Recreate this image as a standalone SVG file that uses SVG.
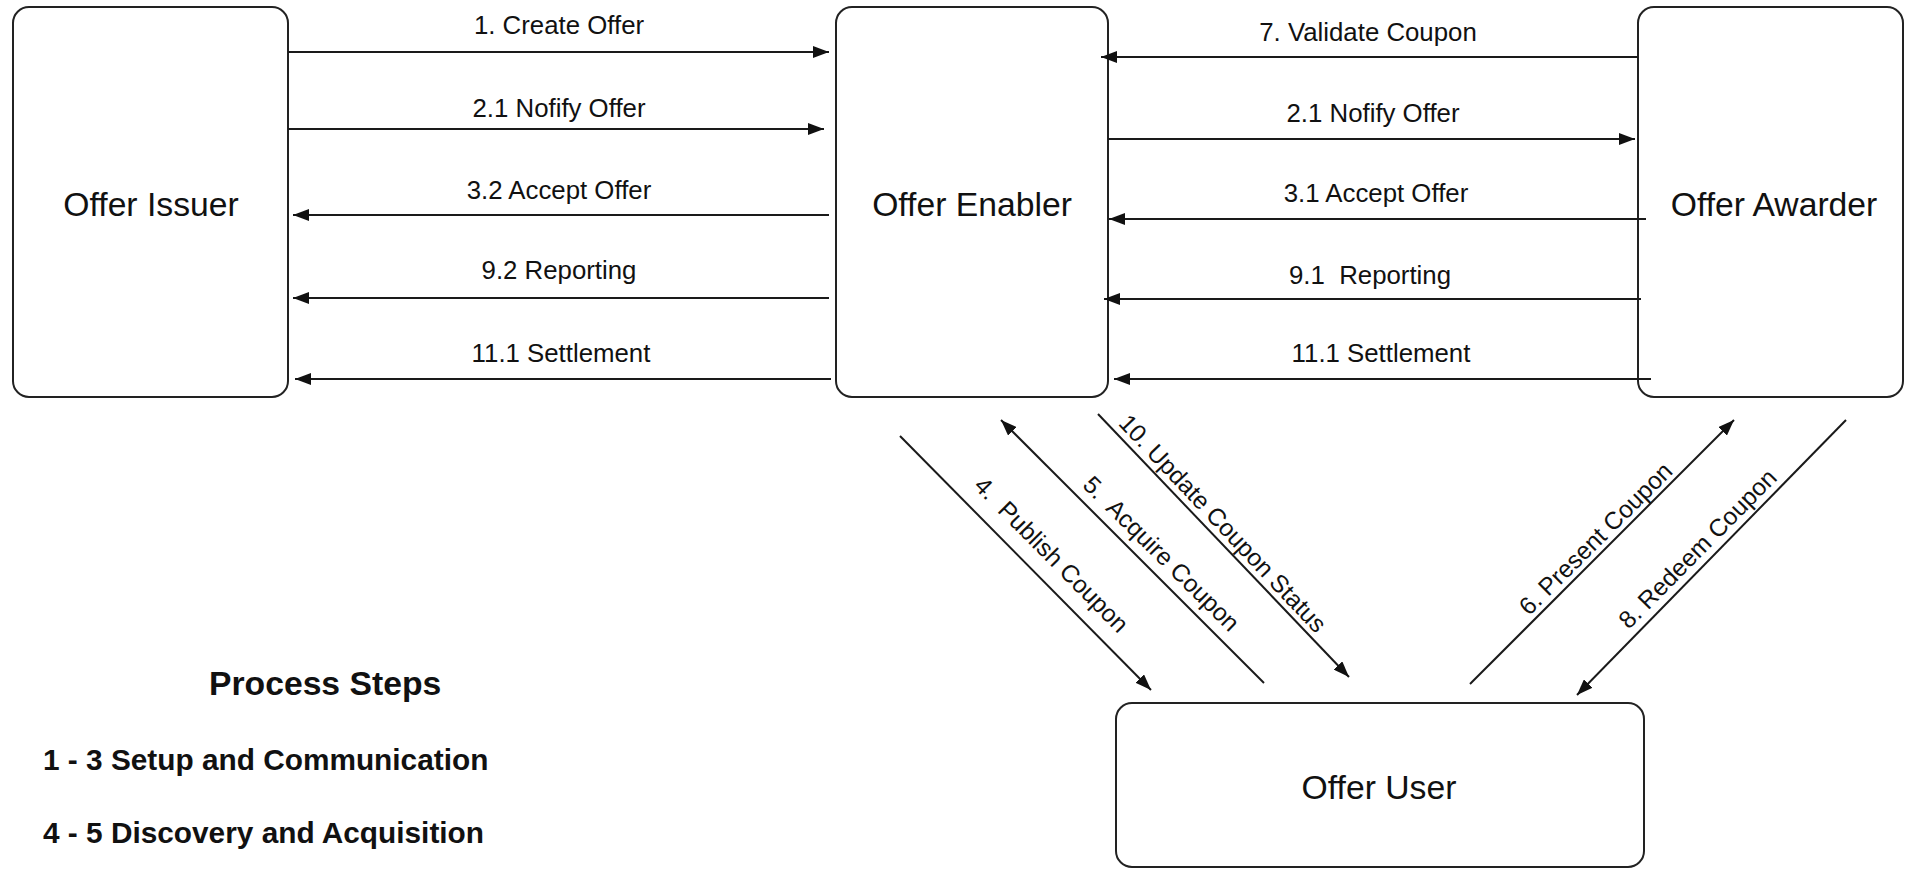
<svg xmlns="http://www.w3.org/2000/svg" width="1905" height="869" viewBox="0 0 1905 869">
  <style>
    .node { fill: #ffffff; stroke: #222222; stroke-width: 2; }
    .node-label { font-family: "Liberation Sans", Arial, sans-serif; font-size: 33.7px; fill: #111111; text-anchor: middle; }
    .edge { stroke: #1a1a1a; stroke-width: 2; fill: none; }
    .edge-label { font-family: "Liberation Sans", Arial, sans-serif; font-size: 25.8px; fill: #111111; text-anchor: middle; }
    .diag-label { font-family: "Liberation Sans", Arial, sans-serif; font-size: 24.5px; fill: #111111; text-anchor: middle; }
    .legend-title { font-family: "Liberation Sans", Arial, sans-serif; font-size: 33.7px; font-weight: bold; fill: #111111; }
    .legend-item { font-family: "Liberation Sans", Arial, sans-serif; font-size: 29.8px; font-weight: bold; fill: #111111; }
  </style>
  <defs>
    <marker id="arrow" viewBox="0 0 16 12" refX="16" refY="6" markerWidth="16" markerHeight="12" orient="auto" markerUnits="userSpaceOnUse">
      <path d="M0,0 L16,6 L0,12 z" fill="#111111"/>
    </marker>
  </defs>

  <rect width="1905" height="869" fill="#ffffff"/>

  <!-- Participants -->
  <g id="offer-issuer">
    <rect class="node" x="13" y="7" width="275" height="390" rx="16"/>
    <text class="node-label" x="151" y="216">Offer Issuer</text>
  </g>
  <g id="offer-enabler">
    <rect class="node" x="836" y="7" width="272" height="390" rx="16"/>
    <text class="node-label" x="972" y="216">Offer Enabler</text>
  </g>
  <g id="offer-awarder">
    <rect class="node" x="1638" y="7" width="265" height="390" rx="16"/>
    <text class="node-label" x="1774" y="216">Offer Awarder</text>
  </g>
  <g id="offer-user">
    <rect class="node" x="1116" y="703" width="528" height="164" rx="16"/>
    <text class="node-label" x="1379" y="799">Offer User</text>
  </g>

  <!-- Message flows -->
  <g id="connectors">
    <!-- Issuer <-> Enabler -->
    <line class="edge" x1="288" y1="52" x2="829" y2="52" marker-end="url(#arrow)"/>
    <text class="edge-label" x="559" y="34">1. Create Offer</text>
    <line class="edge" x1="288" y1="129" x2="824" y2="129" marker-end="url(#arrow)"/>
    <text class="edge-label" x="559" y="117">2.1 Nofify Offer</text>
    <line class="edge" x1="829" y1="215" x2="293" y2="215" marker-end="url(#arrow)"/>
    <text class="edge-label" x="559" y="199">3.2 Accept Offer</text>
    <line class="edge" x1="829" y1="298" x2="293" y2="298" marker-end="url(#arrow)"/>
    <text class="edge-label" x="559" y="279">9.2 Reporting</text>
    <line class="edge" x1="831" y1="379" x2="295" y2="379" marker-end="url(#arrow)"/>
    <text class="edge-label" x="561" y="362">11.1 Settlement</text>

    <!-- Awarder <-> Enabler -->
    <line class="edge" x1="1638" y1="57" x2="1101" y2="57" marker-end="url(#arrow)"/>
    <text class="edge-label" x="1368" y="41">7. Validate Coupon</text>
    <line class="edge" x1="1108" y1="139" x2="1635" y2="139" marker-end="url(#arrow)"/>
    <text class="edge-label" x="1373" y="122">2.1 Nofify Offer</text>
    <line class="edge" x1="1646" y1="219" x2="1109" y2="219" marker-end="url(#arrow)"/>
    <text class="edge-label" x="1376" y="202">3.1 Accept Offer</text>
    <line class="edge" x1="1641" y1="299" x2="1104" y2="299" marker-end="url(#arrow)"/>
    <text class="edge-label" x="1370" y="284" xml:space="preserve">9.1  Reporting</text>
    <line class="edge" x1="1651" y1="379" x2="1114" y2="379" marker-end="url(#arrow)"/>
    <text class="edge-label" x="1381" y="362">11.1 Settlement</text>

    <!-- Enabler <-> User -->
    <line class="edge" x1="900" y1="436" x2="1151" y2="690" marker-end="url(#arrow)"/>
    <text class="diag-label" transform="translate(1049,557) rotate(45.3)" y="5" xml:space="preserve">4.  Publish Coupon</text>
    <line class="edge" x1="1264" y1="683" x2="1001" y2="420" marker-end="url(#arrow)"/>
    <text class="diag-label" transform="translate(1159,556) rotate(44.7)" y="5" xml:space="preserve">5.  Acquire Coupon</text>
    <line class="edge" x1="1098" y1="414" x2="1349" y2="677" marker-end="url(#arrow)"/>
    <text class="diag-label" transform="translate(1221,525) rotate(46.6)" y="6">10. Update Coupon Status</text>

    <!-- Awarder <-> User -->
    <line class="edge" x1="1470" y1="684" x2="1734" y2="420" marker-end="url(#arrow)"/>
    <text class="diag-label" transform="translate(1598,541) rotate(-44.8)" y="5">6. Present Coupon</text>
    <line class="edge" x1="1846" y1="420" x2="1577" y2="695" marker-end="url(#arrow)"/>
    <text class="diag-label" transform="translate(1700,551) rotate(-45.3)" y="5">8. Redeem Coupon</text>
  </g>

  <!-- Legend -->
  <g id="legend">
    <text class="legend-title" x="209" y="695">Process Steps</text>
    <text class="legend-item" x="43" y="770">1 - 3 Setup and Communication</text>
    <text class="legend-item" x="43" y="843">4 - 5 Discovery and Acquisition</text>
  </g>
</svg>
